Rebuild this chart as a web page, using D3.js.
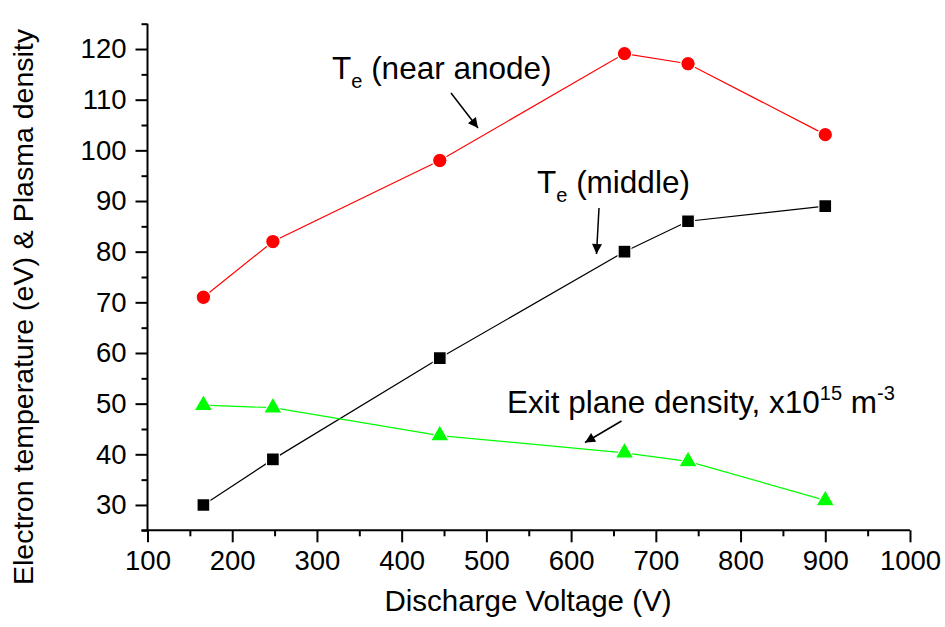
<!DOCTYPE html>
<html>
<head>
<meta charset="utf-8">
<script src="https://cdn.jsdelivr.net/npm/d3@7"></script>
<style>
  body { margin: 0; background: #fff; }
  svg text { font-family: "Liberation Sans", Arial, sans-serif; fill: #000; }
</style>
</head>
<body>
<svg id="chart" width="945" height="627"></svg>
<script>
// discharge voltage (V)
var voltage = [166, 248, 445, 663, 738, 900];
// Te near anode (eV)
var teAnode = [71, 82, 98, 119.1, 117.1, 103.1];
// Te middle (eV)
var teMiddle = [30, 39, 59, 80, 86, 89];
// exit plane density, x10^15 m^-3
var density = [49.7, 49.2, 43.7, 40.3, 38.6, 30.9];

var xTicks = [100, 200, 300, 400, 500, 600, 700, 800, 900, 1000];
var yTicks = [30, 40, 50, 60, 70, 80, 90, 100, 110, 120];

var svg = d3.select("#chart");

var x = d3.scaleLinear().domain([100, 1000]).range([147.5, 910]);
var y = d3.scaleLinear().domain([25, 125]).range([530.3, 23.7]);

// axes
var xMinor = d3.range(150, 1000, 100);
var yMinor = d3.range(25, 130, 10);

var gx = svg.append("g").attr("transform", "translate(0,530.3)");
gx.call(d3.axisBottom(x).tickValues(xTicks).tickSize(12).tickPadding(8).tickFormat(d3.format("d")));
gx.append("g").call(d3.axisBottom(x).tickValues(xMinor).tickSize(6).tickFormat(""));

var gy = svg.append("g").attr("transform", "translate(147.5,0)");
gy.call(d3.axisLeft(y).tickValues(yTicks).tickSize(12).tickPadding(9));
gy.append("g").call(d3.axisLeft(y).tickValues(yMinor).tickSize(6).tickFormat(""));

svg.selectAll(".domain").attr("stroke", "#000").attr("stroke-width", 2);
svg.selectAll(".tick line").attr("stroke", "#000").attr("stroke-width", 2);
gx.selectAll(".tick text").attr("font-size", 27.5).attr("font-family", "Liberation Sans, Arial");
gy.selectAll(".tick text").attr("font-size", 27.5).attr("font-family", "Liberation Sans, Arial");
// x axis line runs a little left, under the bottom minor tick
gx.select(".domain").attr("d", "M" + (147.5 - 6) + ",0H910");
gy.select(".domain").attr("d", "M0," + y(125) + "V" + y(25));
gy.selectAll("g > g > .domain").remove();
gx.selectAll("g > g > .domain").remove();

// axis titles
svg.append("text")
  .attr("x", 528).attr("y", 611)
  .attr("text-anchor", "middle")
  .attr("font-size", 29.5)
  .text("Discharge Voltage (V)");

svg.append("text")
  .attr("transform", "translate(33,307) rotate(-90)")
  .attr("text-anchor", "middle")
  .attr("font-size", 28.5)
  .text("Electron temperature (eV) & Plasma density");

// series
var series = [
  { vals: teAnode, color: "#ff0000", shape: d3.symbolCircle, size: 165 },
  { vals: teMiddle, color: "#000000", shape: d3.symbolSquare, size: 165 },
  { vals: density, color: "#00ff00", shape: d3.symbolTriangle, size: 150 }
];

var line = d3.line()
  .x(function(d) { return x(d[0]); })
  .y(function(d) { return y(d[1]); });

series.forEach(function(s) {
  var pts = voltage.map(function(v, i) { return [v, s.vals[i]]; });
  svg.append("path")
    .attr("d", line(pts))
    .attr("fill", "none")
    .attr("stroke", s.color)
    .attr("stroke-width", 1.2);
  svg.append("g").selectAll("path")
    .data(pts)
    .enter().append("path")
    .attr("d", d3.symbol().type(s.shape).size(s.size))
    .attr("transform", function(d) { return "translate(" + x(d[0]) + "," + y(d[1]) + ")"; })
    .attr("fill", s.color)
    .attr("stroke", "#fff")
    .attr("stroke-width", 1.2);
});

// annotations
svg.append("defs").append("marker")
  .attr("id", "arrow")
  .attr("viewBox", "0 0 10 10")
  .attr("refX", 10).attr("refY", 5)
  .attr("markerWidth", 16).attr("markerHeight", 10)
  .attr("markerUnits", "userSpaceOnUse")
  .attr("orient", "auto")
  .append("path")
  .attr("d", "M0,0L10,5L0,10z")
  .attr("fill", "#000");

function arrow(x1, y1, x2, y2) {
  svg.append("line")
    .attr("x1", x1).attr("y1", y1).attr("x2", x2).attr("y2", y2)
    .attr("stroke", "#000").attr("stroke-width", 1.5)
    .attr("marker-end", "url(#arrow)");
}

var t1 = svg.append("text").attr("x", 332).attr("y", 79).attr("font-size", 31.5);
t1.append("tspan").text("T");
t1.append("tspan").attr("font-size", 20).attr("dy", 9).text("e");
t1.append("tspan").attr("dy", -9).text(" (near anode)");
arrow(451, 93, 478, 128);

var t2 = svg.append("text").attr("x", 537).attr("y", 193).attr("font-size", 31.5);
t2.append("tspan").text("T");
t2.append("tspan").attr("font-size", 20).attr("dy", 9).text("e");
t2.append("tspan").attr("dy", -9).text(" (middle)");
arrow(599, 208, 596.5, 254);

var t3 = svg.append("text").attr("x", 507).attr("y", 413).attr("font-size", 31.5);
t3.append("tspan").text("Exit plane density, x10");
t3.append("tspan").attr("font-size", 20).attr("dy", -13).text("15");
t3.append("tspan").attr("dy", 13).text(" m");
t3.append("tspan").attr("font-size", 20).attr("dy", -13).text("-3");
arrow(621.5, 421, 585, 442.5);
</script>
</body>
</html>
